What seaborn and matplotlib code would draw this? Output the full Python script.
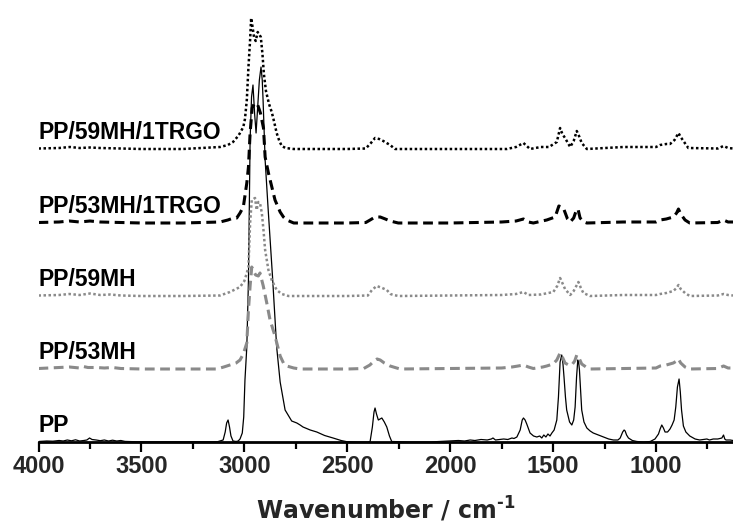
import matplotlib
matplotlib.use("Agg")
import matplotlib.pyplot as plt
import seaborn as sns
import pandas as pd

# ---- data (wavenumber, intensity above own baseline) ----
pp = [(4000, 0.5), (3960, 1), (3930, 0.8), (3900, 1.5), (3880, 1), (3860, 2), (3840, 1.2), (3820, 2.2),
      (3800, 1), (3780, 1.5), (3765, 2), (3752, 4), (3740, 2.5), (3720, 2), (3700, 1.3), (3680, 2),
      (3660, 1), (3640, 1.8), (3620, 1), (3600, 1.5), (3580, 0.6), (3550, 0.4), (3500, 0.2), (3300, 0.2),
      (3130, 0.3), (3103, 2), (3093, 10), (3086, 19), (3079, 22), (3072, 15), (3065, 6), (3055, 1),
      (3040, 0.5), (3030, 1), (3021, 3), (3010, 9), (3003, 25), (2997, 62), (2988, 95), (2980, 162),
      (2972, 302), (2965, 345), (2958, 357), (2950, 328), (2943, 309), (2935, 335), (2927, 362),
      (2919, 375), (2913, 362), (2909, 342), (2899, 282), (2885, 235), (2863, 165), (2843, 95),
      (2826, 60), (2802, 32), (2770, 21), (2745, 19), (2729, 17), (2715, 15), (2680, 12), (2648, 10),
      (2610, 6.5), (2569, 4), (2530, 1.5), (2502, 0.3), (2450, 0), (2400, 0), (2389, 0.5), (2378, 15),
      (2370, 30), (2365, 34), (2358, 28), (2349, 22), (2340, 23), (2332, 24), (2320, 20), (2308, 15),
      (2295, 6), (2284, 0.5), (2200, 0), (2100, 0), (2050, 0.5), (2000, 1), (1960, 1.5), (1930, 1),
      (1903, 2), (1880, 1.5), (1850, 2.5), (1820, 2), (1800, 3), (1792, 4), (1780, 2), (1760, 2.5),
      (1740, 3), (1720, 2.5), (1700, 4), (1690, 3.5), (1676, 5), (1660, 12), (1650, 22), (1644, 24),
      (1636, 22), (1628, 18), (1612, 9), (1595, 6), (1579, 5), (1565, 6), (1555, 4), (1545, 7),
      (1535, 5), (1525, 8), (1515, 6), (1506, 9), (1495, 12), (1482, 22), (1474, 45), (1466, 80),
      (1458, 87), (1452, 78), (1447, 65), (1440, 45), (1434, 32), (1420, 20), (1409, 17), (1400, 22),
      (1393, 35), (1386, 65), (1380, 82), (1376, 80), (1372, 72), (1366, 50), (1361, 32), (1350, 20),
      (1336, 14), (1320, 11), (1305, 9), (1280, 7), (1256, 5), (1230, 3), (1207, 2), (1185, 2),
      (1174, 4), (1162, 10), (1155, 12), (1150, 11), (1143, 7), (1134, 4), (1115, 1.5), (1093, 0.5),
      (1060, 0), (1028, 0.5), (1005, 3), (988, 8), (980, 13), (972, 17), (964, 14), (956, 10),
      (944, 10), (932, 13), (922, 17), (912, 22), (904, 35), (896, 55), (888, 63), (882, 50),
      (876, 32), (867, 16), (855, 10), (836, 6), (810, 3), (788, 2), (770, 2.5), (753, 3), (740, 2),
      (722, 3), (700, 3), (680, 4), (672, 7), (666, 3), (660, 2), (640, 2), (626, 1.5)]

pp_53mh = [(4000, 0.5), (3900, 1.5), (3850, 2), (3800, 1), (3782, 2.5), (3760, 1.5), (3720, 1.5),
           (3680, 1), (3640, 1.5), (3600, 0.5), (3500, 0), (3300, 0), (3134, 0), (3100, 2), (3070, 4),
           (3040, 6), (3021, 9), (3005, 15), (2988, 26), (2980, 59), (2972, 83), (2964, 102),
           (2956, 98), (2945, 94), (2932, 93), (2924, 96), (2908, 83), (2891, 66), (2875, 49),
           (2851, 33), (2826, 13), (2810, 6), (2794, 3), (2760, 1), (2729, 0), (2500, 0), (2420, 0.5),
           (2390, 4), (2370, 8), (2355, 10), (2340, 9), (2320, 6), (2292, 3), (2260, 1), (2243, 0),
           (2000, 0.5), (1750, 1), (1700, 2), (1670, 3), (1644, 4), (1620, 2), (1596, 0.5), (1550, 2),
           (1531, 3), (1500, 5), (1482, 9), (1466, 16), (1455, 12), (1442, 6), (1425, 4), (1409, 4),
           (1395, 8), (1385, 14), (1372, 10), (1361, 5), (1340, 2), (1320, 0), (1150, 0.5), (1000, 1),
           (980, 3), (950, 4), (916, 6), (900, 8), (891, 10), (880, 6), (859, 2), (836, 0), (700, 0.5),
           (672, 3), (650, 1), (626, 1)]

pp_59mh = [(4000, 0.5), (3900, 1), (3850, 2), (3800, 1), (3750, 2.5), (3700, 1), (3650, 1.5),
           (3600, 0.5), (3500, 0), (3300, 0), (3118, 0.5), (3070, 4), (3021, 9), (3000, 15), (2988, 23),
           (2980, 29), (2972, 73), (2964, 96), (2956, 97), (2948, 98), (2940, 86), (2932, 94),
           (2924, 93), (2915, 83), (2907, 66), (2899, 46), (2883, 26), (2867, 16), (2843, 6), (2818, 2),
           (2786, 0), (2500, 0), (2400, 0.5), (2380, 6), (2357, 10), (2330, 8), (2308, 6), (2290, 2),
           (2276, 1), (2250, 0), (2000, 0.5), (1750, 1), (1680, 2), (1644, 4), (1620, 1), (1560, 1.5),
           (1499, 4), (1480, 10), (1466, 18), (1455, 13), (1442, 7), (1417, 1), (1400, 5), (1377, 14),
           (1365, 8), (1353, 3), (1320, 0), (1158, 1), (1000, 1), (980, 2), (950, 3), (916, 5), (900, 8),
           (891, 11), (880, 7), (859, 3), (836, 0), (700, 0.5), (672, 2), (650, 1), (626, 0.5)]

pp_53mh_1trgo = [(4000, 0.5), (3900, 1), (3850, 2), (3800, 1), (3750, 2), (3700, 1), (3600, 0.5),
                 (3500, 0), (3300, 0), (3118, 1), (3080, 3), (3053, 5), (3037, 5), (3021, 10),
                 (3005, 16), (2988, 40), (2980, 56), (2972, 90), (2962, 115), (2950, 120), (2935, 118),
                 (2922, 110), (2907, 95), (2899, 66), (2883, 50), (2851, 23), (2826, 11), (2810, 6),
                 (2794, 3), (2760, 0), (2500, 0), (2410, 0.5), (2389, 3), (2365, 6), (2340, 6),
                 (2315, 4), (2292, 2), (2252, 0), (2000, 0), (1750, 1), (1680, 2), (1644, 4), (1620, 1),
                 (1596, 0), (1531, 3), (1490, 6), (1472, 17), (1460, 16), (1450, 15), (1430, 4),
                 (1417, 1), (1400, 5), (1385, 14), (1378, 13), (1369, 5), (1350, 1), (1336, 0),
                 (1160, 1), (1000, 1), (980, 3), (950, 4), (916, 6), (900, 10), (891, 14), (880, 9),
                 (859, 3), (836, 0), (700, 0.5), (672, 3), (650, 1), (626, 1)]

pp_59mh_1trgo = [(4000, 0.5), (3900, 1), (3847, 2), (3800, 1), (3750, 1.5), (3700, 1), (3600, 0.5),
                 (3500, 0), (3300, 0), (3118, 2), (3080, 4), (3055, 7), (3030, 13), (3021, 16),
                 (3005, 22), (2997, 30), (2988, 49), (2980, 82), (2972, 109), (2967, 131), (2960, 122),
                 (2953, 112), (2945, 108), (2935, 117), (2920, 112), (2912, 95), (2905, 75), (2895, 58),
                 (2880, 45), (2867, 37), (2855, 27), (2843, 16), (2830, 8), (2818, 3), (2800, 1),
                 (2760, 0), (2500, 0), (2410, 0.5), (2385, 6), (2365, 11), (2345, 10), (2325, 8),
                 (2292, 4), (2268, 0), (1725, 0), (1680, 2), (1644, 6), (1612, 0), (1560, 2), (1520, 2),
                 (1482, 7), (1466, 21), (1455, 15), (1442, 11), (1417, 2), (1400, 8), (1385, 18),
                 (1372, 12), (1361, 6), (1336, 0), (1158, 2), (1000, 2), (980, 4), (950, 5), (932, 5),
                 (910, 9), (891, 16), (880, 12), (867, 8), (843, 1), (700, 0.5), (672, 3), (650, 1),
                 (626, 0.5)]

series_names = ["PP", "PP/53MH", "PP/59MH", "PP/53MH/1TRGO", "PP/59MH/1TRGO"]
series_data = [pp, pp_53mh, pp_59mh, pp_53mh_1trgo, pp_59mh_1trgo]
offsets = [0, 73, 146, 219, 293]
x_ticks = [4000, 3500, 3000, 2500, 2000, 1500, 1000]
x_minor_ticks = [3750, 3250, 2750, 2250, 1750, 1250, 750]

# ---- styles ----
GRAY = "#8a8a8a"
styles = {
    "PP": dict(color="black", lw=0.9, ls="-"),
    "PP/53MH": dict(color=GRAY, lw=2.2, ls=(0, (3.2, 1.8))),
    "PP/59MH": dict(color=GRAY, lw=1.8, ls=(0, (1, 1))),
    "PP/53MH/1TRGO": dict(color="black", lw=2.2, ls=(0, (3.2, 1.8))),
    "PP/59MH/1TRGO": dict(color="black", lw=1.8, ls=(0, (1, 1))),
}

sns.set_theme(style="white")
plt.rcParams["font.family"] = ["Liberation Sans", "DejaVu Sans"]
plt.rcParams["font.weight"] = "bold"
plt.rcParams["mathtext.fontset"] = "dejavusans"
plt.rcParams["mathtext.default"] = "bf"

fig = plt.figure(figsize=(7.33, 5.29), dpi=100)
ax = fig.add_axes([38.5 / 733, 1 - 442 / 529, 1 - 38.5 / 733, 437 / 529])

for name, pts, off in zip(series_names, series_data, offsets):
    df = pd.DataFrame(pts, columns=["wn", "y"])
    df["y"] = df["y"] + off
    st = styles[name]
    sns.lineplot(data=df, x="wn", y="y", ax=ax, estimator=None, sort=False,
                 color=st["color"], linewidth=st["lw"])
    line = ax.lines[-1]
    line.set_linestyle(st["ls"])
    line.set_dash_capstyle("butt")
    ax.text(4000, off + 10, name, ha="left", va="baseline", fontsize=16.5,
            fontweight="bold", color="black")

ax.set_xlim(4000, 626)
ax.set_ylim(0, 437)
ax.set_xticks(x_ticks)
ax.set_xticks(x_minor_ticks, minor=True)
ax.set_xticklabels([str(t) for t in x_ticks], fontsize=17, fontweight="bold")
ax.set_yticks([])
ax.set_ylabel("")
ax.set_xlabel("Wavenumber / cm$^{\u20101}$", fontsize=17, fontweight="bold",
              family=["DejaVu Sans"], labelpad=12)
for s in ["left", "top", "right"]:
    ax.spines[s].set_visible(False)
ax.spines["bottom"].set_linewidth(2.0)
ax.spines["bottom"].set_color("black")
ax.tick_params(axis="x", which="major", direction="out", length=7.5, width=1.6,
               color="black", pad=2, bottom=True)
ax.tick_params(axis="x", which="minor", direction="out", length=5, width=1.6,
               color="black", bottom=True)
ax.set_facecolor("white")
fig.patch.set_facecolor("white")

fig.savefig("out.png", dpi=100)
